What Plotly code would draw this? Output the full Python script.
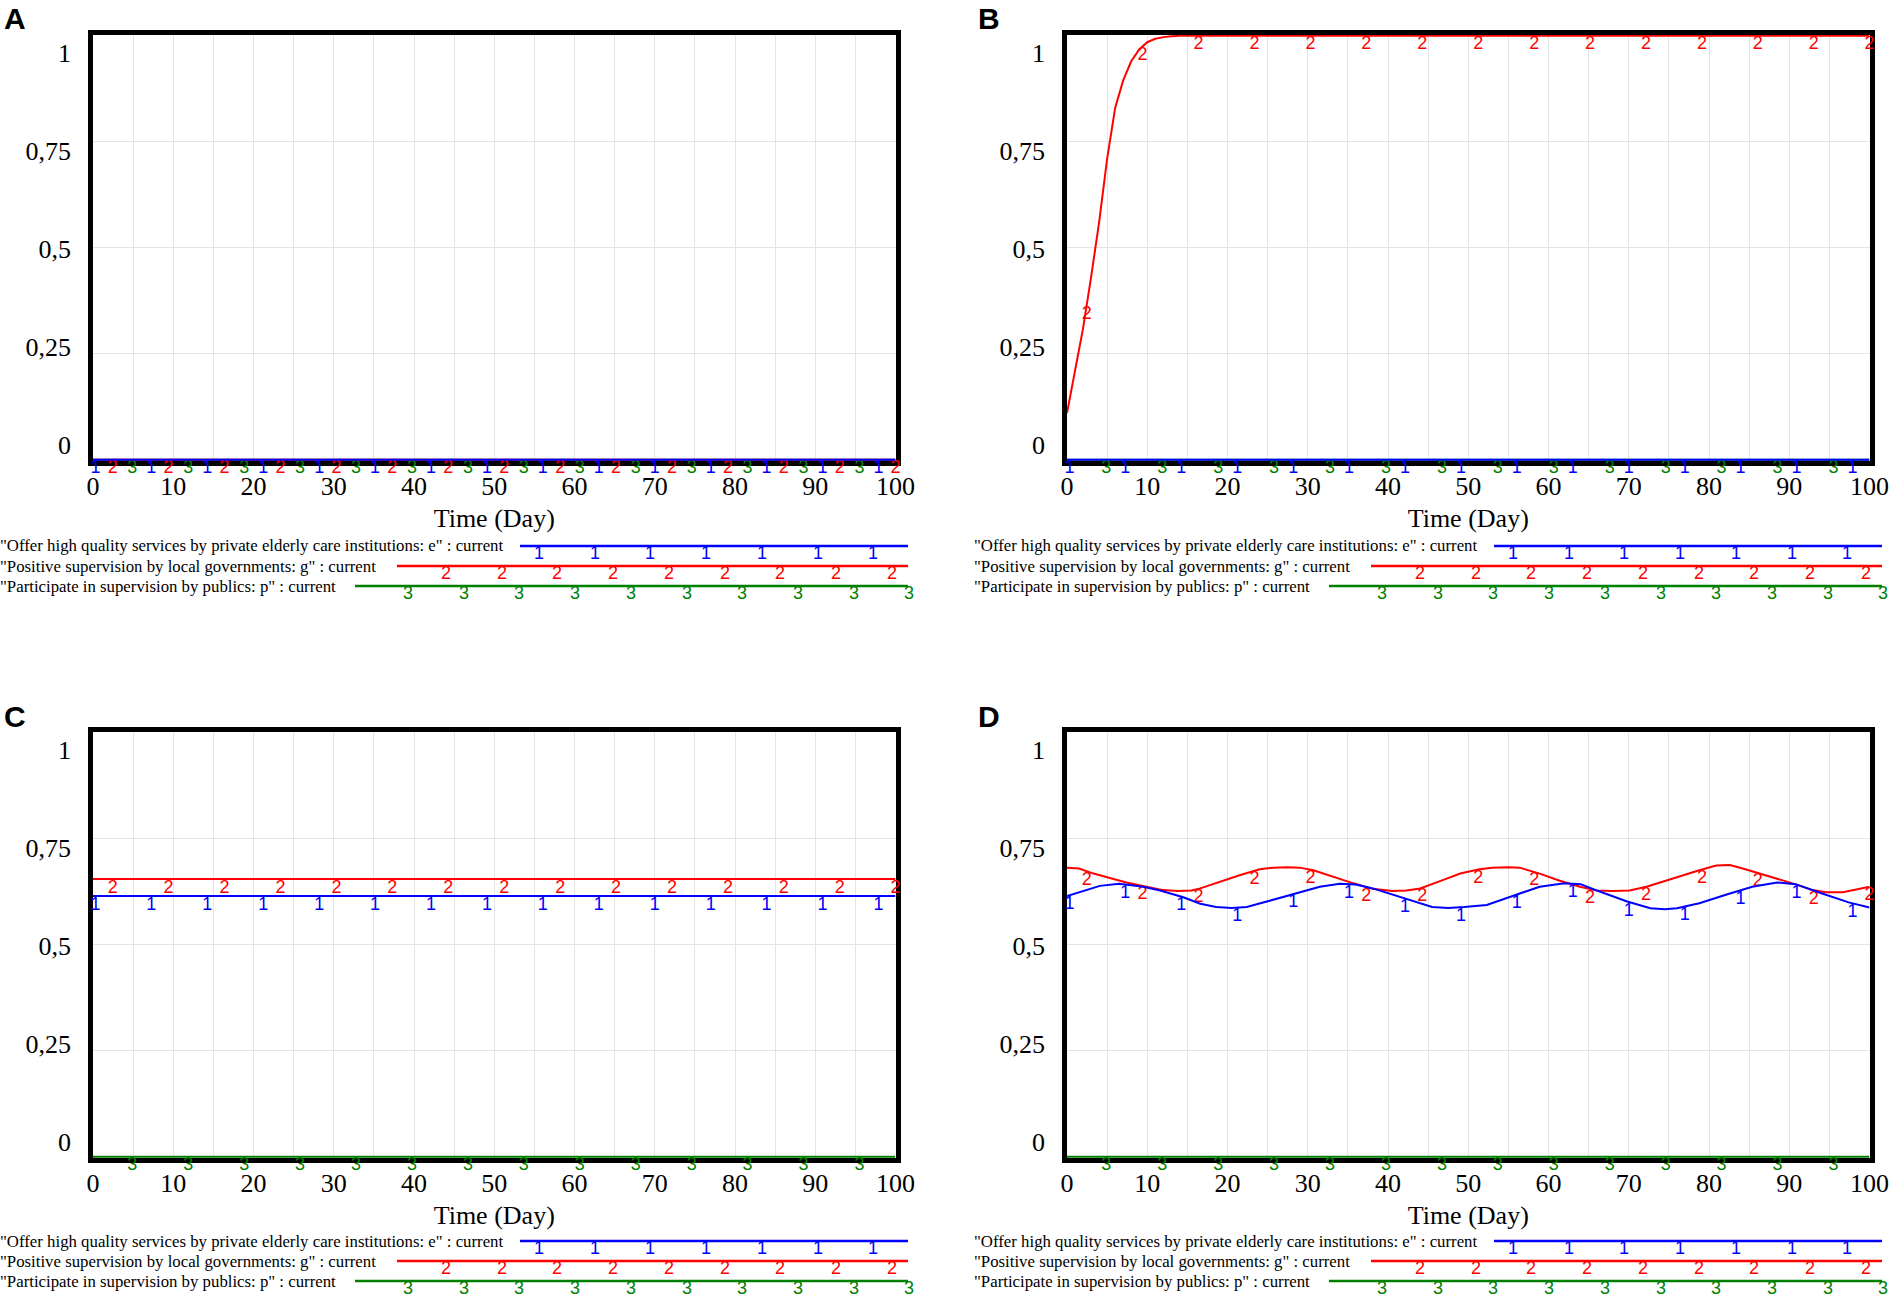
import numpy as np
import plotly.graph_objects as go

W, H = 1892, 1300

# ---------------- data ----------------
TIME_FLAT = [0, 100]

A_E = [0, 0]
A_G = [0, 0]
A_P = [0, 0]

B_E = [0, 0]
B_P = [0, 0]
B_G_TIME = [0, 1, 2, 3, 4, 5, 6, 7, 8, 9, 10, 11, 12, 13, 14, 100]
B_G = [0.11, 0.21, 0.31, 0.43, 0.56, 0.71, 0.83, 0.895, 0.94, 0.968, 0.985,
       0.993, 0.997, 0.999, 1.0, 1.0]

C_E = [0.615, 0.615]
C_G = [0.655, 0.655]
C_P = [0, 0]

D_P = [0, 0]
D_G_TIME = [0, 1.5, 3.3, 5.5, 7.4, 9.9, 12, 13.8, 15.5, 16.6, 19, 21.5, 24, 25.7,
            27.5, 29, 30.7, 33.2, 35.7, 38.1, 40.5, 42.3, 44, 46.9, 49, 51.4, 53,
            55, 56.4, 58.9, 61.4, 63.9, 66, 68, 70.1, 72.2, 75.5, 78.8, 80.9,
            82.6, 84.2, 87.1, 90.4, 92.9, 94.6, 96.7, 98.8, 100]
D_G = [0.682, 0.680, 0.668, 0.656, 0.647, 0.637, 0.629, 0.627, 0.628, 0.633,
       0.649, 0.664, 0.678, 0.682, 0.683, 0.682, 0.676, 0.660, 0.645, 0.632,
       0.627, 0.628, 0.633, 0.653, 0.668, 0.678, 0.682, 0.683, 0.682, 0.668,
       0.651, 0.637, 0.628, 0.627, 0.628, 0.637, 0.657, 0.676, 0.687, 0.688,
       0.680, 0.664, 0.645, 0.629, 0.624, 0.624, 0.633, 0.637]
D_E_TIME = [0, 1.6, 4.1, 6.5, 9.5, 11.6, 14.5, 16.6, 18.6, 20.5, 22.4, 24.9, 28.2,
            31.5, 34, 36, 38.1, 40.6, 44, 45.5, 47.5, 49.5, 52.3, 56, 58.9, 62,
            64, 65.6, 69.8, 72.7, 74.5, 76, 78.8, 82.1, 85.4, 88.5, 90.8, 94.1,
            97.4, 100]
D_E = [0.615, 0.625, 0.639, 0.644, 0.637, 0.628, 0.612, 0.597, 0.589, 0.587,
       0.589, 0.602, 0.620, 0.637, 0.644, 0.642, 0.633, 0.618, 0.597, 0.589,
       0.587, 0.589, 0.594, 0.618, 0.637, 0.645, 0.643, 0.631, 0.602, 0.586,
       0.584, 0.586, 0.598, 0.618, 0.637, 0.647, 0.643, 0.621, 0.600, 0.588]

PANEL_LABELS = ["A", "B", "C", "D"]
X_TICKS = [0, 10, 20, 30, 40, 50, 60, 70, 80, 90, 100]
Y_TICK_TEXT = ["0", "0,25", "0,5", "0,75", "1"]
Y_TICK_POS = [0.036, 0.267, 0.498, 0.729, 0.960]   # Vensim places labels off-grid
Y_GRID = [0.25, 0.5, 0.75]
X_TITLE = "Time (Day)"
LEGEND_TEXT = ['"Offer high quality services by private elderly care institutions: e" : current',
               '"Positive supervision by local governments: g" : current',
               '"Participate in supervision by publics: p" : current']
SERIES_DIGITS = ["1", "2", "3"]

# ---------------- styling ----------------
BLUE, RED, GREEN = "#0000ff", "#ff0000", "#008000"
COLORS = [BLUE, RED, GREEN]
SERIF = "Liberation Serif"
SANS = "Liberation Sans"
GRID = "#e4e4e4"

# panel pixel boxes (left, right, top, bottom)
BOXES = [(93, 895.5, 35, 461), (1067, 1869.5, 35, 461),
         (93, 895.5, 732, 1158), (1067, 1869.5, 732, 1158)]
LEGEND_TOP = [546, 546, 1241, 1241]

panels = [
    [(TIME_FLAT, A_E), (TIME_FLAT, A_G), (TIME_FLAT, A_P)],
    [(TIME_FLAT, B_E), (B_G_TIME, B_G), (TIME_FLAT, B_P)],
    [(TIME_FLAT, C_E), (TIME_FLAT, C_G), (TIME_FLAT, C_P)],
    [(D_E_TIME, D_E), (D_G_TIME, D_G), (TIME_FLAT, D_P)],
]

# marker (digit) spots along the lines, as Vensim draws them
MARK_X = [0.3 + 6.97 * np.arange(15),
          np.minimum(2.45 + 6.97 * np.arange(15), 100),
          4.9 + 6.97 * np.arange(14)]


def px(x):
    return x / W


def py(y):
    return 1 - y / H


fig = go.Figure()
layout = dict(width=W, height=H, autosize=False, margin=dict(l=0, r=0, t=0, b=0),
              paper_bgcolor="white", plot_bgcolor="white", showlegend=False)
annotations = []
shapes = []

for i, series in enumerate(panels):
    n = "" if i == 0 else str(i + 1)
    xa, ya = "x" + n, "y" + n
    l, r, t, b = BOXES[i]
    # draw green, red, then blue on top
    for s in [2, 1, 0]:
        tx, vals = series[s]
        fig.add_trace(go.Scatter(x=tx, y=vals, mode="lines", xaxis=xa, yaxis=ya,
                                 line=dict(color=COLORS[s], width=2),
                                 hoverinfo="skip"))
        mx = MARK_X[s]
        my = np.interp(mx, tx, vals)
        fig.add_trace(go.Scatter(x=mx, y=my, mode="text", xaxis=xa, yaxis=ya,
                                 text=[SERIES_DIGITS[s]] * len(mx),
                                 textposition="bottom center",
                                 textfont=dict(family=SANS, size=18, color=COLORS[s]),
                                 cliponaxis=False, hoverinfo="skip"))
    layout["xaxis" + n] = dict(
        domain=[px(l), px(r)], anchor=ya, range=[0, 100], automargin=False,
        tickmode="array", tickvals=X_TICKS, ticktext=[str(v) for v in X_TICKS],
        showgrid=True, gridcolor=GRID, gridwidth=1,
        minor=dict(dtick=5, tick0=0, showgrid=True, gridcolor=GRID, gridwidth=1),
        showline=True, mirror=True, linecolor="black", linewidth=4.5,
        ticks="", zeroline=False, layer="below traces",
        tickfont=dict(family=SERIF, size=26, color="black"),
        ticklabelstandoff=-2,
        title=dict(text=X_TITLE, font=dict(family=SERIF, size=26, color="black"),
                   standoff=10),
    )
    layout["yaxis" + n] = dict(
        domain=[py(b), py(t)], anchor=xa, range=[-0.003, 1.002], automargin=False,
        tickmode="array", tickvals=Y_TICK_POS, ticktext=Y_TICK_TEXT,
        showgrid=False,
        minor=dict(tickmode="array", tickvals=Y_GRID, showgrid=True,
                   gridcolor=GRID, gridwidth=1),
        showline=True, mirror=True, linecolor="black", linewidth=4.5,
        ticks="", zeroline=False, layer="below traces",
        tickfont=dict(family=SERIF, size=26, color="black"),
        ticklabelstandoff=12,
    )
    # panel label
    annotations.append(dict(text="<b>" + PANEL_LABELS[i] + "</b>", xref="paper",
                            yref="paper", x=px(l - 78), y=py(t - 16),
                            xanchor="center", yanchor="middle", showarrow=False,
                            font=dict(family=SANS, size=30, color="black")))
    # legend block
    ox = l - 92
    oy = LEGEND_TOP[i]
    line_start = [519, 396, 354]
    line_end = [907, 907, 907]
    mark_start = [538, 445, 407]
    mark_count = [7, 9, 10]
    for s in range(3):
        yy = oy + 20 * s
        annotations.append(dict(text=LEGEND_TEXT[s], xref="paper", yref="paper",
                                x=px(ox - 3), y=py(yy), xanchor="left",
                                yanchor="middle", showarrow=False,
                                font=dict(family=SERIF, size=16.8, color="black")))
        shapes.append(dict(type="line", xref="paper", yref="paper",
                           x0=px(ox + line_start[s]), x1=px(ox + line_end[s]),
                           y0=py(yy), y1=py(yy),
                           line=dict(color=COLORS[s], width=2.5)))
        for k in range(mark_count[s]):
            annotations.append(dict(text=SERIES_DIGITS[s], xref="paper", yref="paper",
                                    x=px(ox + mark_start[s] + 55.7 * k), y=py(yy - 5),
                                    xanchor="center", yanchor="top", showarrow=False,
                                    font=dict(family=SANS, size=18, color=COLORS[s])))

layout["annotations"] = annotations
layout["shapes"] = shapes
fig.update_layout(**layout)

fig.write_html("out.html",
               config={"responsive": False, "displayModeBar": False},
               post_script="document.body.style.margin='0';"
                           "document.body.style.overflow='hidden';")
